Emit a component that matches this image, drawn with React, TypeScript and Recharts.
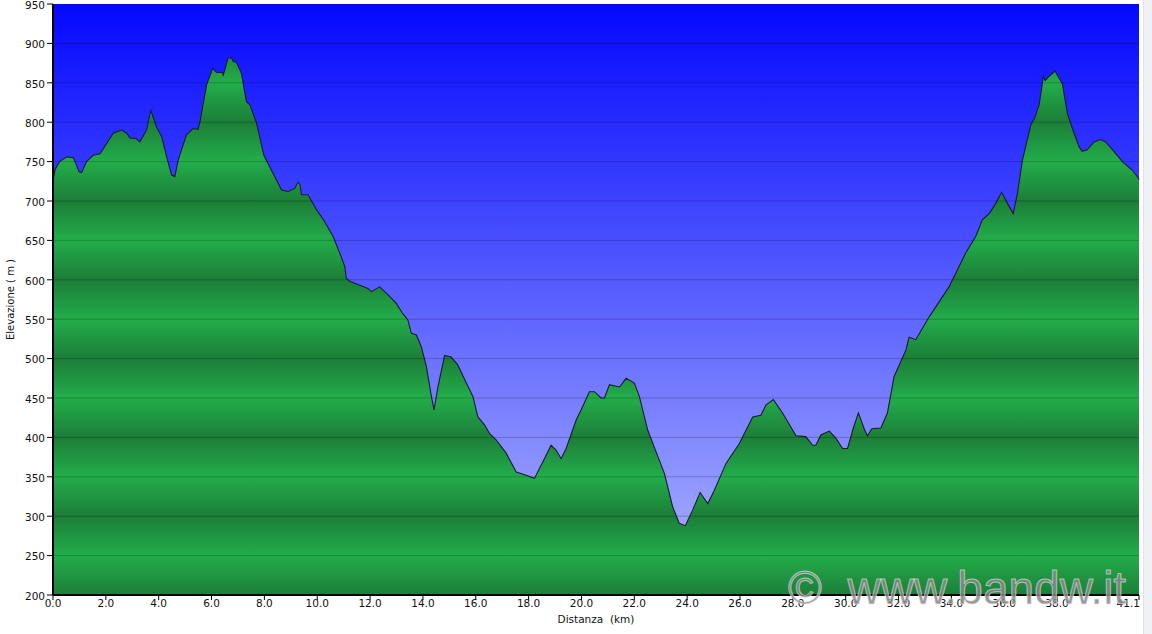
import React from "react"
import {
  AreaChart,
  Area,
  XAxis,
  YAxis,
  CartesianGrid,
  ReferenceLine,
} from "recharts"

// distance (km) and elevation (m)
const distKm = [
  0.0, 0.08, 0.25, 0.52, 0.77, 0.99, 1.08, 1.27, 1.52, 1.78, 2.28, 2.6, 2.79, 2.91, 3.16, 3.29, 3.54, 3.7,
  3.92, 4.11, 4.3, 4.49, 4.61, 4.74, 5.05, 5.3, 5.49, 5.56, 5.81, 6.04, 6.19, 6.42, 6.44, 6.63, 6.76, 6.82,
  6.94, 7.13, 7.32, 7.45, 7.7, 7.98, 8.33, 8.65, 8.9, 9.15, 9.27, 9.34, 9.4, 9.65, 9.97, 10.28, 10.6, 10.91,
  11.04, 11.1, 11.23, 11.61, 11.92, 12.05, 12.36, 12.68, 12.99, 13.24, 13.43, 13.56, 13.75, 13.94, 14.13,
  14.32, 14.42, 14.57, 14.82, 15.07, 15.32, 15.64, 15.89, 16.08, 16.33, 16.52, 16.77, 17.15, 17.53, 17.91,
  18.22, 18.54, 18.85, 19.04, 19.23, 19.42, 19.8, 19.99, 20.3, 20.49, 20.74, 20.87, 21.06, 21.44, 21.69,
  22.0, 22.19, 22.51, 22.82, 23.14, 23.45, 23.7, 23.93, 24.21, 24.49, 24.78, 25.03, 25.47, 25.97, 26.48,
  26.79, 26.98, 27.26, 27.61, 28.12, 28.49, 28.75, 28.87, 29.06, 29.38, 29.63, 29.88, 30.07, 30.28, 30.48,
  30.7, 30.82, 30.99, 31.33, 31.58, 31.83, 32.28, 32.4, 32.65, 33.16, 33.91, 34.54, 34.92, 35.17, 35.43,
  35.68, 35.9, 36.12, 36.34, 36.5, 36.69, 37.0, 37.17, 37.32, 37.48, 37.55, 37.69, 37.92, 38.07, 38.2,
  38.39, 38.58, 38.83, 38.95, 39.14, 39.4, 39.65, 39.84, 40.15, 40.47, 40.85, 41.08, 41.1,
]
const elevM = [
  725, 740, 750, 756, 755, 737, 736, 750, 758, 760, 786, 790, 786, 780, 779, 775, 790, 815,
  794, 782, 756, 733, 731, 752, 784, 792, 791, 800, 847, 868, 863, 863, 859, 882, 881, 877,
  876, 862, 826, 822, 799, 758, 735, 714, 712, 716, 724, 722, 708, 708, 689, 674, 655, 629,
  617, 602, 598, 593, 589, 585, 591, 581, 570, 557, 549, 532, 530, 515, 490,
  452, 435, 464, 504, 502, 492, 469, 452, 426, 416, 405, 397, 380, 356, 352,
  348, 369, 390, 384, 373, 386, 422, 435, 458, 458, 450, 450, 467, 464, 475,
  469, 452, 409, 382, 354, 312, 291, 288, 308, 330, 316, 333, 367, 392, 426,
  428, 441, 448, 431, 402, 401, 390, 390, 403, 408, 399, 386, 386, 411, 431,
  411, 402, 411, 412, 431, 477, 511, 527, 524, 553, 591, 634, 655, 676, 684,
  697, 711, 697, 684, 710, 752, 796, 807, 822, 858, 853, 858, 865, 856, 849,
  811, 792, 769, 763, 765, 775, 778, 775, 763, 750, 739, 729, 727,
]

const xTicks = [0, 2, 4, 6, 8, 10, 12, 14, 16, 18, 20, 22, 24, 26, 28, 30, 32, 34, 36, 38, 41.1]
const yTicks = [200, 250, 300, 350, 400, 450, 500, 550, 600, 650, 700, 750, 800, 850, 900, 950]

const data = distKm.map((km, i) => ({ km, elev: elevM[i] }))

const PLOT_TOP = 4
const PLOT_BOTTOM = 595
const Y_MIN = 200
const Y_MAX = 950

function XTick(props: any) {
  const { x, y, payload } = props
  const last = payload.value === 41.1
  return (
    <text x={last ? x + 1 : x} y={y} dy="0.71em" textAnchor={last ? "end" : "middle"} fill="#111" fontSize={10.5}>
      {Number(payload.value).toFixed(1)}
    </text>
  )
}

export default function App() {
  return (
    <div style={{ position: "absolute", left: 0, top: 0, width: 1152, height: 634, background: "#fff", fontFamily: "'DejaVu Sans', sans-serif", overflow: "hidden" }}>
      <AreaChart width={1143} height={634} data={data} margin={{ top: PLOT_TOP, right: 4, left: 0, bottom: 9 }}>
        <defs>
          <linearGradient id="sky" gradientUnits="userSpaceOnUse" x1="0" y1={PLOT_TOP} x2="0" y2={PLOT_BOTTOM}>
            <stop offset="0" stopColor="#0408ff" />
            <stop offset="1" stopColor="#b0b8ff" />
          </linearGradient>
          <linearGradient id="ground" gradientUnits="userSpaceOnUse" x1="0" y1={PLOT_TOP} x2="0" y2={PLOT_BOTTOM}>
            {yTicks.slice().reverse().map((v) => (
              <stop
                key={v}
                offset={(Y_MAX - v) / (Y_MAX - Y_MIN)}
                stopColor={v % 100 === 0 ? "#1c7e38" : "#23ad4b"}
              />
            ))}
          </linearGradient>
        </defs>
        <CartesianGrid horizontal={false} vertical={false} fill="url(#sky)" fillOpacity={1} />
        <XAxis
          dataKey="km"
          type="number"
          domain={[0, 41.1]}
          ticks={xTicks}
          interval={0}
          tick={<XTick />}
          tickSize={5}
          tickMargin={0}
          height={30}
          axisLine={{ stroke: "#000", strokeWidth: 2 }}
          tickLine={{ stroke: "#000" }}
          label={{ value: "Distanza\u00a0\u00a0(km)", position: "insideBottom", offset: 2, fill: "#111", fontSize: 10.5 }}
        />
        <YAxis
          type="number"
          domain={[Y_MIN, Y_MAX]}
          ticks={yTicks}
          interval={0}
          width={53}
          tickSize={6}
          tickMargin={2}
          tick={{ fill: "#111", fontSize: 10.5, dy: 1 }}
          axisLine={{ stroke: "#000", strokeWidth: 2 }}
          tickLine={{ stroke: "#000" }}
          allowDataOverflow
          label={{ value: "Elevazione ( m )", angle: -90, position: "insideLeft", offset: 10, fill: "#111", fontSize: 10, style: { textAnchor: "middle" } }}
        />
        <Area
          type="linear"
          dataKey="elev"
          stroke="#1c1c2c"
          strokeWidth={1.1}
          fill="url(#ground)"
          fillOpacity={1}
          baseValue={Y_MIN}
          isAnimationActive={false}
          dot={false}
          activeDot={false}
        />
        {yTicks.slice(1, -1).map((v) => (
          <ReferenceLine key={v} y={v} stroke="#000" strokeOpacity={0.22} strokeWidth={1} />
        ))}
      </AreaChart>
      <div style={{ position: "absolute", left: 1143, top: 0, width: 9, height: 634, background: "#eef0f3", borderLeft: "1px solid #dfe2e8", boxSizing: "border-box" }} />
      <div
        style={{
          position: "absolute",
          left: 788,
          top: 565,
          fontFamily: "'Liberation Sans', Arial, sans-serif",
          fontSize: 46,
          lineHeight: "46px",
          color: "rgba(135,135,135,0.85)",
          WebkitTextStroke: "1px rgba(235,235,235,0.6)",
          whiteSpace: "pre",
          pointerEvents: "none",
        }}
      >
        {"©  www.bandw.it"}
      </div>
    </div>
  )
}
